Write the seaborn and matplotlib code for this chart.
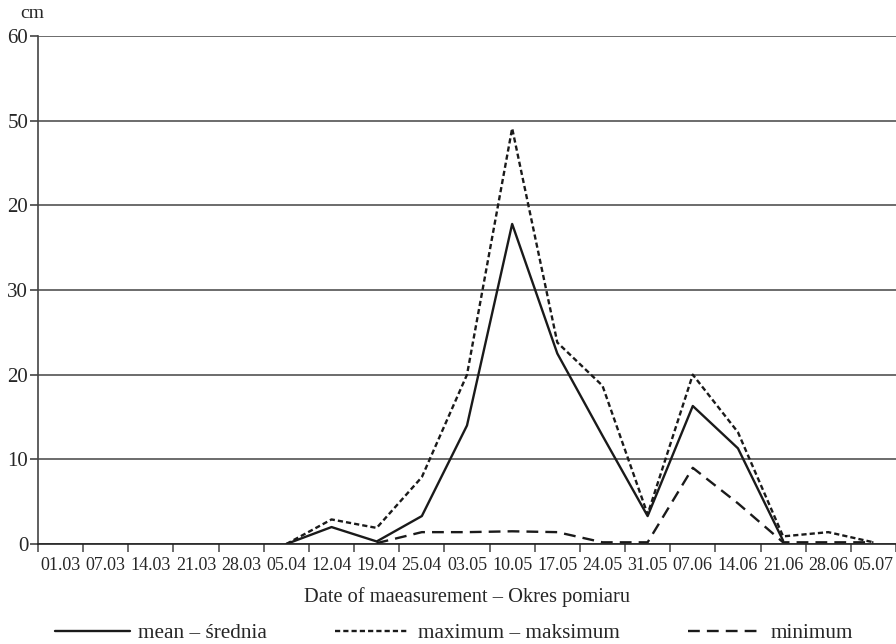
import numpy as np
import pandas as pd
import matplotlib
matplotlib.use("Agg")
import matplotlib.pyplot as plt
import seaborn as sns

# dates of measurement (category axis)
dates = ["01.03", "07.03", "14.03", "21.03", "28.03", "05.04", "12.04", "19.04",
         "25.04", "03.05", "10.05", "17.05", "24.05", "31.05", "07.06", "14.06",
         "21.06", "28.06", "05.07"]

nan = np.nan
mean_cm = [nan, nan, nan, nan, nan, 0.0, 2.0, 0.3, 3.3, 14.0, 37.8, 22.5, 12.8,
           3.3, 16.3, 11.3, 0.4, nan, nan]
max_cm = [nan, nan, nan, nan, nan, 0.0, 2.9, 1.9, 7.9, 20.0, 49.1, 23.8, 18.7,
          3.5, 20.0, 13.2, 0.9, 1.4, 0.2]
min_cm = [nan, nan, nan, nan, nan, nan, nan, 0.1, 1.4, 1.4, 1.5, 1.4, 0.2,
          0.2, 9.0, 4.8, 0.2, 0.2, 0.2]

ytick_vals = [0, 10, 20, 30, 40, 50, 60]
ytick_text = ["0", "10", "20", "30", "20", "50", "60"]

labels = {"mean": "mean \u2013 \u015brednia",
          "max": "maximum \u2013 maksimum",
          "min": "minimum"}

df = pd.DataFrame({"idx": np.arange(len(dates)), "mean": mean_cm,
                   "max": max_cm, "min": min_cm})
long_df = df.melt(id_vars="idx", var_name="series", value_name="cm").dropna()

sns.set_style("white")
plt.rcParams["font.family"] = ["Liberation Serif", "DejaVu Serif"]

fig = plt.figure(figsize=(8.96, 6.44), dpi=100)
ax = fig.add_axes([38 / 896, 1 - 544 / 644, 1 - 38 / 896, (544 - 36) / 644])

sns.lineplot(data=long_df, x="idx", y="cm", style="series",
             style_order=["mean", "max", "min"],
             dashes={"mean": "", "max": (2.2, 1.3), "min": (5, 3)},
             color="#1a1a1a", linewidth=1.7, legend=False, ax=ax)

ax.set_xlim(-0.5, len(dates) - 0.5)
ax.set_ylim(0, 60)

ax.set_yticks(ytick_vals)
ax.set_yticklabels(ytick_text, fontsize=15)
ax.yaxis.grid(True, color="#444444", linewidth=1.1)
ax.xaxis.grid(False)
ax.tick_params(axis="y", direction="out", length=6, width=1.2, color="#444444",
               left=True, pad=1)

ax.set_xticks(np.arange(len(dates)))
ax.set_xticklabels(dates, fontsize=13)
ax.set_xticks(np.arange(-0.5, len(dates), 1), minor=True)
ax.tick_params(axis="x", which="major", length=0, pad=9)
ax.tick_params(axis="x", which="minor", direction="out", length=6, width=1.1,
               color="#444444", bottom=True)

for side in ["top", "right"]:
    ax.spines[side].set_visible(False)
ax.spines["left"].set_color("#444444")
ax.spines["left"].set_linewidth(1.2)
ax.spines["bottom"].set_color("#222222")
ax.spines["bottom"].set_linewidth(1.2)

ax.set_xlabel("Date of maeasurement \u2013 Okres pomiaru", fontsize=14.7, labelpad=10)
ax.set_ylabel("")
fig.text(20 / 896, 1 - 14 / 644, "cm", fontsize=14, ha="left", va="center")

fig.legend(handles=ax.lines[:3], labels=[labels["mean"], labels["max"], labels["min"]],
           loc="center", bbox_to_anchor=(0.507, 1 - 633 / 644), ncol=3,
           frameon=False, fontsize=15.3, handlelength=3.5, columnspacing=3.2,
           handletextpad=0.4, borderpad=0)

fig.savefig("out.png", dpi=100)
